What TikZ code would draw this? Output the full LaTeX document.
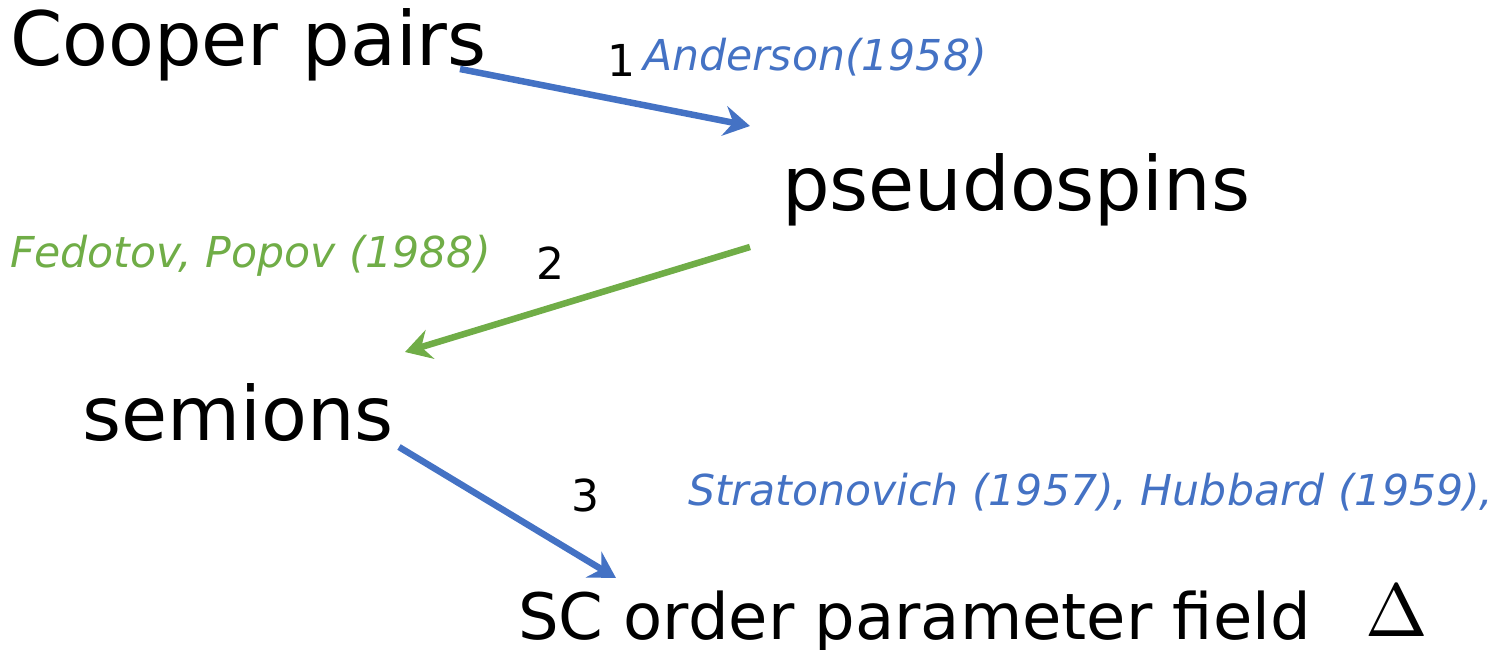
\documentclass[tikz,border=0pt]{standalone}
\usepackage[no-math]{fontspec}
\usepackage{graphicx}
\setmainfont{DejaVu Sans}
\usetikzlibrary{arrows.meta}
\definecolor{myblue}{HTML}{4472C4}
\definecolor{mygreen}{HTML}{70AD47}
\tikzset{
  lbl/.style={anchor=base west, inner sep=0pt, outer sep=0pt},
  big/.style={lbl, font=\fontsize{75}{80}\selectfont},
  mid/.style={lbl, font=\fontsize{64}{70}\selectfont},
  num/.style={lbl, font=\fontsize{44}{50}\selectfont},
  ref/.style={lbl, font=\fontsize{42.6}{48}\selectfont\itshape},
  conn/.style={line width=6.5pt, -{Stealth[length=26pt,width=30pt,inset=9pt]}},
}
\begin{document}
\begin{tikzpicture}[x=1pt,y=-1pt]
\useasboundingbox (0,0) rectangle (1509,650);
\node[big] (cooper) at (10,66) {Cooper pairs};
\node[big] (pseudo) at (782,210) {pseudospins};
\node[big] (semi) at (82,440) {semions};
\node[mid] (sc) at (518,639) {SC order parameter field};
\node[lbl] (delta) at (1365,636) {\scalebox{7.5}{$\Delta$}};
\node[num] (n1) at (607,77) {1};
\node[num] (n2) at (536,279) {2};
\node[num] (n3) at (571,511) {3};
\node[ref, text=myblue] (and) at (643,71) {Anderson(1958)};
\node[ref, text=mygreen] (fed) at (10,267) {Fedotov, Popov (1988)};
\node[ref, text=myblue] (str) at (688,505) {Stratonovich (1957), Hubbard (1959),};
\coordinate (a1s) at (460,69);
\coordinate (a1e) at (750,126);
\coordinate (a2s) at (750,247);
\coordinate (a2e) at (405,352);
\coordinate (a3s) at (399,447);
\coordinate (a3e) at (616,578);
\draw[conn, myblue] (a1s) -- (a1e);
\draw[conn, mygreen] (a2s) -- (a2e);
\draw[conn, myblue] (a3s) -- (a3e);
\end{tikzpicture}
\end{document}
